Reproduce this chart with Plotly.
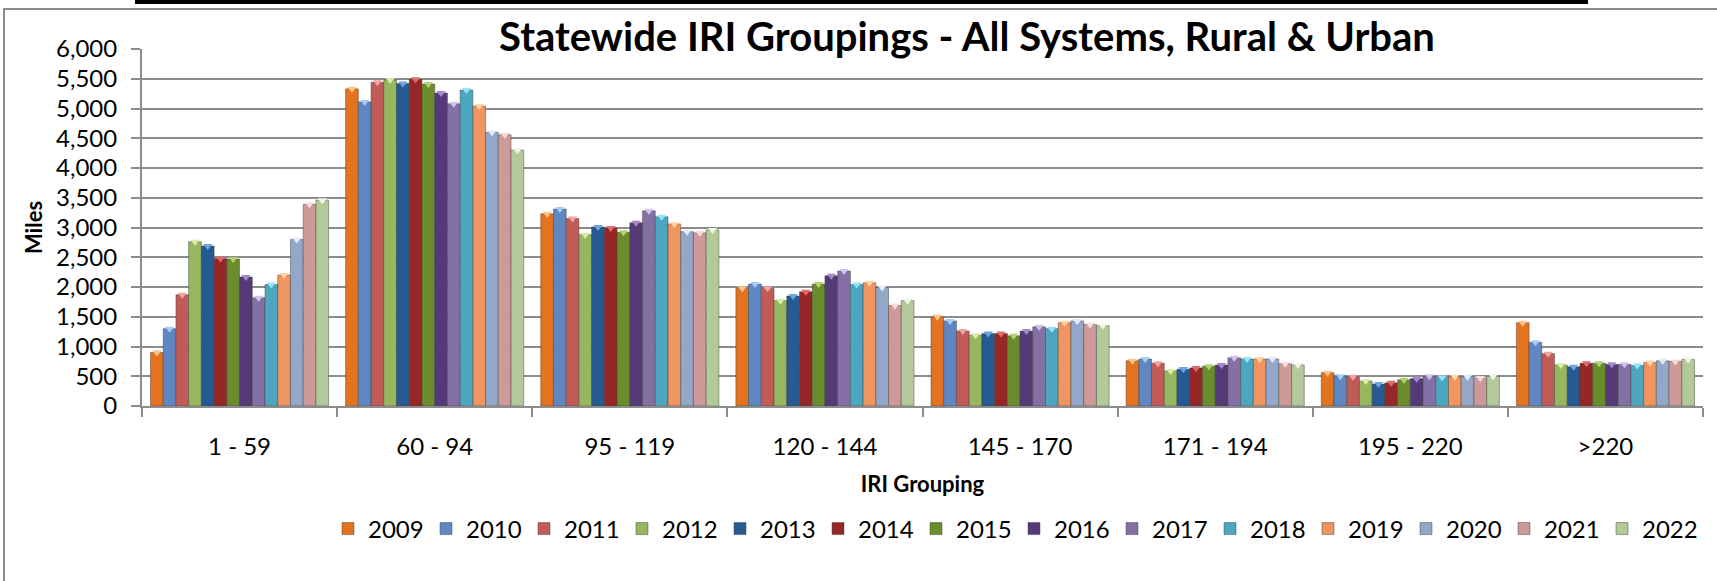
import plotly.graph_objects as go

categories = ["1 - 59", "60 - 94", "95 - 119", "120 - 144", "145 - 170", "171 - 194", "195 - 220", ">220"]
years = ["2009", "2010", "2011", "2012", "2013", "2014", "2015", "2016",
         "2017", "2018", "2019", "2020", "2021", "2022"]

v2009 = [900, 5330, 3230, 1980, 1500, 760, 560, 1400]
v2010 = [1300, 5110, 3310, 2050, 1430, 790, 500, 1070]
v2011 = [1870, 5440, 3150, 1980, 1260, 720, 490, 880]
v2012 = [2760, 5480, 2880, 1770, 1190, 590, 420, 690]
v2013 = [2690, 5420, 3010, 1850, 1220, 620, 370, 660]
v2014 = [2480, 5490, 2990, 1920, 1220, 640, 390, 720]
v2015 = [2470, 5410, 2920, 2050, 1180, 670, 440, 720]
v2016 = [2170, 5260, 3080, 2190, 1260, 690, 460, 700]
v2017 = [1820, 5080, 3280, 2270, 1330, 810, 500, 700]
v2018 = [2040, 5310, 3180, 2040, 1300, 790, 480, 680]
v2019 = [2200, 5040, 3060, 2070, 1400, 790, 490, 730]
v2020 = [2800, 4600, 2930, 1990, 1430, 790, 490, 760]
v2021 = [3390, 4560, 2910, 1690, 1370, 710, 470, 750]
v2022 = [3460, 4300, 2960, 1770, 1350, 690, 500, 780]

series = [v2009, v2010, v2011, v2012, v2013, v2014, v2015, v2016,
          v2017, v2018, v2019, v2020, v2021, v2022]

colors = ["#E3731E", "#5F88C2", "#C15B58", "#97B75F", "#255A92", "#952727", "#6A8C2C",
          "#553A78", "#8470A5", "#4DA6C0", "#EE9560", "#93A7C8", "#CE9A99", "#B3C99A"]
caps = ["#FBC48A", "#A9CBF2", "#F1A5A3", "#D9EDA9", "#6FA3DE", "#E06B6B", "#B2D470",
        "#A587CC", "#D2C2F0", "#93E4F8", "#FFD3A4", "#E2EBFA", "#F8DCDC", "#EEF7E2"]

W, H = 1717, 581
ML, MR, MT, MB = 142, 14, 49, 175
PW = W - ML - MR
PH = H - MT - MB

def px(x):
    return (x - ML) / PW

def py(y):
    return (H - MB - y) / PH

fig = go.Figure()
for i, (yr, vals) in enumerate(zip(years, series)):
    fig.add_trace(go.Bar(
        x=categories, y=vals, name=yr, offsetgroup=yr,
        marker=dict(color=colors[i], line=dict(color="rgba(60,60,60,0.45)", width=1)),
    ))
for i, (yr, vals) in enumerate(zip(years, series)):
    fig.add_trace(go.Scatter(
        x=categories, y=vals, mode="markers", offsetgroup=yr, showlegend=False,
        marker=dict(symbol="triangle-down", size=8, color=caps[i], line=dict(width=0)),
        hoverinfo="skip", cliponaxis=False,
    ))

font_fam = "Lato, 'Open Sans', sans-serif"
fig.update_layout(
    template="none",
    width=W, height=H,
    margin=dict(l=ML, r=MR, t=MT, b=MB, autoexpand=False),
    paper_bgcolor="white", plot_bgcolor="white",
    barmode="group", bargap=0.087, bargroupgap=0.0,
    scattermode="group", scattergap=0.087,
    font=dict(family=font_fam, size=24, color="black"),
    title=dict(text="<b>Statewide IRI Groupings - All Systems, Rural & Urban</b>",
               font=dict(family=font_fam, size=40, color="black"),
               x=967 / W, xref="container", xanchor="center",
               y=1 - 37 / H, yref="container", yanchor="middle"),
    showlegend=True,
    legend=dict(orientation="h", x=px(328), xanchor="left", y=py(529), yanchor="middle",
                font=dict(size=24, family=font_fam), traceorder="normal",
                entrywidth=53, entrywidthmode="pixels", bgcolor="rgba(0,0,0,0)",
                itemclick=False),
    xaxis=dict(
        automargin=False,
        showline=True, linecolor="#8C8C8C", linewidth=2,
        ticks="outside", tickson="boundaries", ticklen=9, tickcolor="#8C8C8C", tickwidth=2,
        showgrid=False, tickfont=dict(size=24), ticklabelstandoff=18,
        title=dict(text="<b>IRI Grouping</b>", font=dict(size=22), standoff=18),
    ),
    yaxis=dict(
        automargin=False,
        range=[0, 6000], dtick=500, tickformat=",d",
        showline=True, linecolor="#8C8C8C", linewidth=2,
        ticks="outside", ticklen=9, tickcolor="#8C8C8C", tickwidth=2,
        showgrid=True, gridcolor="#8C8C8C", gridwidth=2,
        tickfont=dict(size=24), zeroline=False, ticklabelstandoff=9,
        title=dict(text="<b>Miles</b>", font=dict(size=22), standoff=7),
    ),
)

# chart border and top black rule
fig.add_shape(type="rect", xref="paper", yref="paper",
              x0=px(4), x1=px(W + 20), y0=py(H + 20), y1=py(9),
              line=dict(color="#8C8C8C", width=2), fillcolor="rgba(0,0,0,0)", layer="below")
fig.add_shape(type="rect", xref="paper", yref="paper",
              x0=px(135), x1=px(1588), y0=py(4), y1=py(-2),
              line=dict(width=0), fillcolor="black")

fig.write_html("out.html", config={"displayModeBar": False},
               post_script="document.body.style.margin='0';document.body.style.overflow='hidden';")
